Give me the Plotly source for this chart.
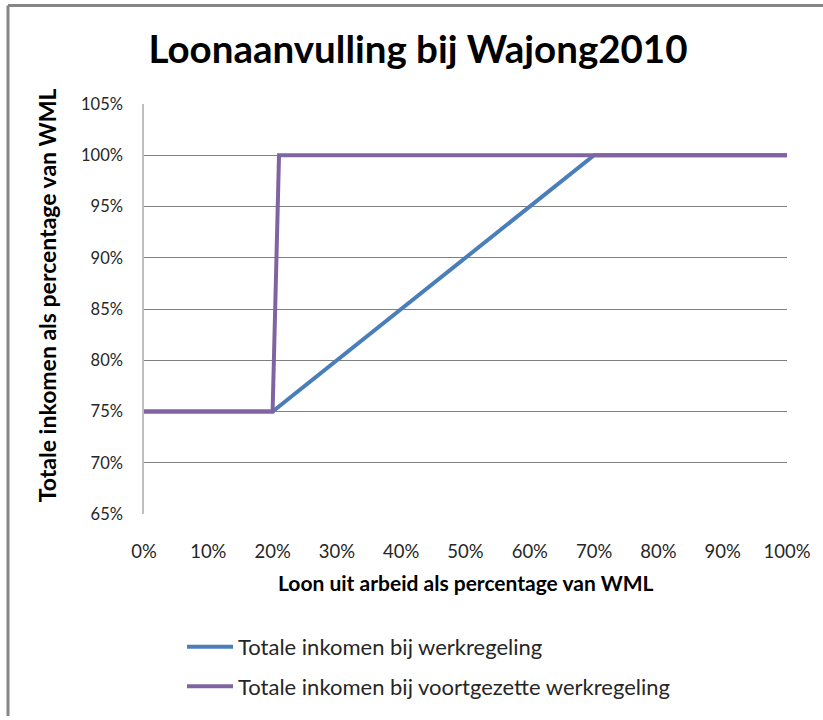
import plotly.graph_objects as go

# Data (breakpoints of the two income lines, % of WML)
loon_werk = [0, 20, 70, 100]
inkomen_werk = [75, 75, 100, 100]
loon_voortgezet = [0, 20, 21, 100]
inkomen_voortgezet = [75, 75, 100, 100]

x_ticks = [0, 10, 20, 30, 40, 50, 60, 70, 80, 90, 100]
y_ticks = [65, 70, 75, 80, 85, 90, 95, 100, 105]

FONT = "Lato"
TXT = "#262626"

fig = go.Figure()
fig.add_trace(go.Scatter(
    x=loon_werk, y=inkomen_werk, mode="lines",
    name="Totale inkomen bij werkregeling",
    line=dict(color="#4A7EBB", width=4),
    legend="legend", showlegend=True,
))
fig.add_trace(go.Scatter(
    x=loon_voortgezet, y=inkomen_voortgezet, mode="lines",
    name="Totale inkomen bij voortgezette werkregeling",
    line=dict(color="#8064A2", width=4),
    legend="legend2", showlegend=True,
))

W, H = 823, 720
L, R, T, B = 144, 36, 104, 200
pw, ph = W - L - R, H - T - B

def px(xpix):
    return (xpix - L) / pw

def py(ypix):
    return 1 - (ypix - T) / ph

legend_common = dict(xanchor="left", yanchor="middle", bgcolor="rgba(0,0,0,0)",
                     font=dict(size=22, color=TXT), itemwidth=46)

fig.update_layout(
    width=W, height=H,
    margin=dict(l=L, r=R, t=T, b=B),
    paper_bgcolor="white", plot_bgcolor="white",
    font=dict(family=FONT, color=TXT),
    showlegend=True,
    title=dict(text="Loonaanvulling bij Wajong2010", x=418 / W, xref="container",
               xanchor="center", y=1 - 50 / H, yanchor="middle",
               font=dict(family=FONT, size=38.5, color="black", weight="bold")),
    xaxis=dict(range=[0, 100], tickvals=x_ticks, ticktext=[f"{v}%" for v in x_ticks],
               showgrid=False, zeroline=False, showline=True, linecolor="white",
               linewidth=1, ticks="", ticklabelstandoff=21,
               tickfont=dict(size=18.5, color=TXT)),
    yaxis=dict(range=[65, 105], tickvals=y_ticks, ticktext=[f"{v}%" for v in y_ticks],
               showgrid=True, gridcolor="#808080", gridwidth=1, zeroline=False,
               showline=True, linecolor="#BFBFBF", linewidth=1.5, ticks="",
               ticklabelstandoff=16, tickfont=dict(size=16.5, color=TXT)),
    legend=dict(x=px(182), y=py(655), **legend_common),
    legend2=dict(x=px(182), y=py(695), **legend_common),
    annotations=[
        dict(text="<b>Loon uit arbeid als percentage van WML</b>", xref="paper", yref="paper",
             x=px(466), y=py(589), xanchor="center", yanchor="middle", showarrow=False,
             font=dict(size=21, color="black")),
        dict(text="<b>Totale inkomen als percentage van WML</b>", xref="paper", yref="paper",
             x=px(47), y=py(298), xanchor="center", yanchor="middle", showarrow=False,
             textangle=-90, font=dict(size=23, color="black")),
    ],
    shapes=[
        dict(type="line", xref="paper", yref="paper", x0=px(8), x1=px(830),
             y0=py(4), y1=py(4), line=dict(color="#868686", width=3)),
        dict(type="line", xref="paper", yref="paper", x0=px(8), x1=px(8),
             y0=py(4), y1=py(725), line=dict(color="#868686", width=3)),
    ],
)

fig.write_html("out.html", config={"displayModeBar": False},
               post_script="document.body.style.margin='0';")
